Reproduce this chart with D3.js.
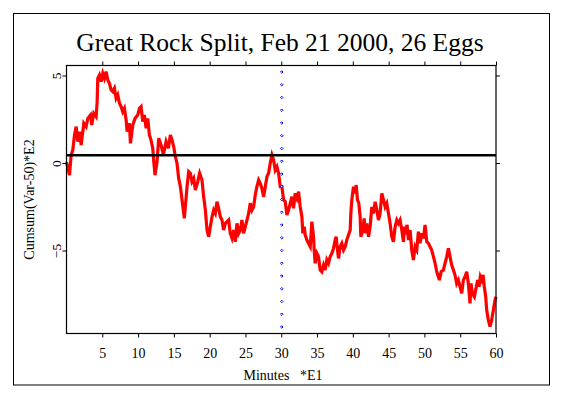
<!DOCTYPE html>
<html>
<head>
<meta charset="utf-8">
<script src="https://cdn.jsdelivr.net/npm/d3@7"></script>
<style>
html, body { margin: 0; padding: 0; background: #fff; }
svg { display: block; }
text { font-family: "Liberation Serif", "Times New Roman", serif; fill: #000; }
</style>
</head>
<body>
<svg id="chart" width="563" height="397"></svg>
<script>
const title = "Great Rock Split, Feb 21 2000, 26 Eggs";
const xLabel = "Minutes   *E1";
const yLabel = "Cumsum(Var-50)*E2";
const xTicks = [5, 10, 15, 20, 25, 30, 35, 40, 45, 50, 55, 60];
const yTicks = [5, 0, -5];
const refLevel = 0.45;
const eventMinute = 30;

const minutes = [
  0, 0.2, 0.42, 0.65, 0.88, 1.12, 1.35, 1.58, 1.81, 2.05, 2.28, 2.42, 2.74, 2.98, 3.35, 3.53, 3.81, 4.14, 4.28, 4.37,
  4.6, 4.84, 5.07, 5.3, 5.53, 5.77, 6.0, 6.23, 6.46, 6.7, 6.93, 7.16, 7.4, 7.63, 7.86, 8.09, 8.33, 8.47, 8.79, 8.93,
  9.26, 9.58, 9.95, 10.19, 10.42, 10.65, 10.88, 11.12, 11.35, 11.58, 11.81, 12.05, 12.19, 12.37, 12.65, 12.88, 13.21, 13.53, 13.91, 14.23,
  14.51, 14.74, 14.98, 15.21, 15.44, 15.67, 15.91, 16.14, 16.46, 16.6, 16.84, 17.07, 17.3, 17.53, 17.77, 18.0, 18.33, 18.6, 18.93, 19.16,
  19.4, 19.63, 19.86, 20.09, 20.33, 20.56, 20.79, 21.02, 21.25, 21.49, 21.72, 21.95, 22.19, 22.65, 22.88, 23.12, 23.35, 23.58, 23.81, 24.05,
  24.28, 24.51, 24.74, 24.98, 25.21, 25.44, 25.67, 25.91, 26.14, 26.37, 26.6, 26.84, 27.07, 27.3, 27.53, 27.77, 28.0, 28.23, 28.46, 28.7,
  28.93, 29.16, 29.4, 29.63, 29.86, 30.09, 30.33, 30.56, 30.79, 31.02, 31.26, 31.49, 31.72, 31.95, 32.19, 32.42, 32.65, 32.88, 33.02, 33.21,
  33.35, 33.58, 33.81, 34.05, 34.28, 34.51, 34.6, 34.74, 34.98, 35.21, 35.44, 35.67, 35.91, 36.14, 36.37, 36.6, 36.84, 37.07, 37.3, 37.53,
  37.67, 37.86, 38.0, 38.23, 38.46, 38.7, 38.93, 39.16, 39.39, 39.63, 39.72, 39.86, 40.09, 40.33, 40.47, 40.65, 40.84, 41.02, 41.12, 41.39,
  41.58, 41.77, 41.95, 42.19, 42.42, 42.65, 42.88, 43.12, 43.35, 43.58, 43.81, 44.05, 44.28, 44.51, 44.74, 44.98, 45.21, 45.44, 45.67, 45.91,
  46.14, 46.37, 46.6, 46.84, 47.07, 47.21, 47.39, 47.58, 47.77, 48.0, 48.23, 48.46, 48.7, 48.93, 49.16, 49.39, 49.63, 49.86, 50.09, 50.33,
  50.56, 50.79, 51.02, 51.26, 51.49, 51.72, 51.95, 52.09, 52.33, 52.65, 52.88, 53.12, 53.35, 53.58, 53.81, 54.05, 54.28, 54.51, 54.74, 54.98,
  55.21, 55.44, 55.67, 55.91, 56.14, 56.37, 56.51, 56.7, 56.98, 57.16, 57.44, 57.63, 57.81, 58.0, 58.19, 58.37, 58.56, 58.7, 58.93, 59.16,
  59.4, 59.63, 59.86, 60.0
];
const cumsum = [
  0.05, -0.3, -0.69, 0.46, 0.74, 1.6, 2.08, 1.22, 1.79, 1.03, 1.79, 2.27, 2.08, 2.55, 2.74, 2.17, 2.84, 2.65, 3.5, 4.84,
  5.03, 4.65, 5.12, 4.84, 5.22, 4.74, 4.55, 4.17, 4.08, 4.27, 3.7, 3.89, 3.41, 3.22, 2.93, 3.12, 2.46, 1.79, 2.27, 1.12,
  2.17, 2.55, 2.74, 3.12, 3.22, 2.36, 2.74, 1.98, 2.55, 1.6, 1.31, 0.84, 0.08, -0.69, 0.08, 1.41, 1.03, 0.46, 1.22, 0.84,
  1.6, 1.31, 0.93, 0.36, -0.02, -0.88, -1.35, -2.11, -3.16, -2.5, -1.35, -0.5, -0.59, -1.07, -0.88, -1.54, -1.07, -0.59, -0.97, -1.92,
  -2.69, -3.83, -4.21, -3.64, -3.07, -2.69, -2.88, -2.21, -2.59, -3.07, -3.26, -3.83, -3.45, -3.26, -4.02, -4.3, -3.83, -4.5, -3.45, -4.02,
  -3.83, -3.26, -4.02, -3.64, -3.26, -2.88, -2.3, -2.69, -2.5, -1.83, -1.35, -0.97, -1.16, -1.45, -1.92, -1.35, -0.78, -0.59, -0.02, 0.46,
  0.17, -0.4, -0.21, -0.59, -1.35, -1.35, -2.11, -2.21, -2.97, -2.69, -2.3, -1.92, -2.59, -1.73, -2.02, -1.64, -2.5, -3.07, -4.02, -3.64,
  -4.11, -4.4, -4.59, -4.78, -3.35, -4.21, -4.97, -5.73, -5.16, -5.35, -6.11, -6.21, -5.83, -6.11, -5.54, -5.73, -5.35, -5.16, -4.88, -4.4,
  -4.21, -4.97, -5.45, -4.78, -4.59, -4.97, -4.78, -4.4, -4.11, -3.83, -2.88, -2.11, -1.35, -1.73, -1.26, -2.11, -2.3, -3.07, -4.21, -3.83,
  -3.16, -4.02, -3.45, -4.21, -3.64, -2.5, -2.88, -2.21, -2.69, -3.26, -2.88, -1.73, -2.11, -2.5, -2.3, -2.88, -3.45, -4.21, -4.5, -3.64,
  -3.26, -3.45, -3.26, -3.83, -4.5, -3.64, -3.83, -3.54, -4.4, -3.83, -4.97, -5.54, -4.78, -4.97, -3.92, -4.59, -4.02, -4.3, -3.54, -4.5,
  -4.59, -4.78, -4.97, -5.35, -5.73, -6.21, -6.5, -6.69, -6.21, -6.11, -5.73, -5.35, -4.88, -5.35, -5.83, -6.11, -6.4, -6.88, -6.69, -7.07,
  -7.45, -6.69, -6.5, -6.21, -6.88, -8.02, -6.88, -7.45, -7.64, -7.26, -6.69, -7.07, -6.5, -6.69, -6.4, -7.07, -7.64, -8.4, -8.97, -9.35,
  -8.97, -8.4, -7.83, -7.64
];

const svg = d3.select("#chart");
const W = 563, H = 397;
const plot = { left: 66.5, right: 496, top: 65.5, bottom: 333.5 };

svg.append("rect").attr("width", W).attr("height", H).attr("fill", "#fff");
// outer frame
svg.append("rect")
  .attr("x", 13.5).attr("y", 13.5)
  .attr("width", 536).attr("height", 371.5)
  .attr("fill", "none").attr("stroke", "#000").attr("stroke-width", 1);

const x = d3.scaleLinear().domain([0, 60]).range([plot.left, plot.right]);
const y = d3.scaleLinear().domain([-9.74, 5.57]).range([plot.bottom, plot.top]);

const data = minutes.map((m, i) => [m, cumsum[i]]);

const g = svg.append("g");

// red cumulative line
g.append("path")
  .datum(data)
  .attr("fill", "none")
  .attr("stroke", "#ff0000")
  .attr("stroke-width", 3.2)
  .attr("stroke-linejoin", "miter")
  .attr("d", d3.line().x(d => x(d[0])).y(d => y(d[1])));

// reference horizontal line
g.append("line")
  .attr("x1", x(0)).attr("x2", x(60))
  .attr("y1", y(refLevel)).attr("y2", y(refLevel))
  .attr("stroke", "#000").attr("stroke-width", 2.5);

// event marker line drawn as small diamonds
const markerYs = d3.range(plot.top + 6.5, plot.bottom - 2, 12.75);
const diamond = d3.symbolDiamond2 || d3.symbolDiamond;
g.selectAll("path.evt")
  .data(markerYs)
  .join("path")
  .attr("class", "evt")
  .attr("transform", d => `translate(${x(eventMinute) + 0.5},${d})`)
  .attr("d", d3.symbol().type(diamond).size(4))
  .attr("fill", "#fff")
  .attr("stroke", "#0000ff")
  .attr("stroke-width", 1);

// axes
const axisStyle = sel => {
  sel.select(".domain").remove();
  sel.selectAll(".tick line").attr("stroke", "#000").attr("stroke-width", 1);
  sel.selectAll("text").style("font-family", '"Liberation Serif", serif').style("font-size", "14px").attr("fill", "#000");
};

svg.append("g").attr("transform", `translate(0,${plot.bottom})`)
  .call(d3.axisBottom(x).tickValues(xTicks).tickSize(4).tickPadding(11).tickFormat(d3.format("d")))
  .call(axisStyle);
svg.append("g").attr("transform", `translate(0,${plot.top})`)
  .call(d3.axisTop(x).tickValues(xTicks).tickSize(4).tickFormat(""))
  .call(axisStyle);
const yAx = svg.append("g").attr("transform", `translate(${plot.left},0)`)
  .call(d3.axisLeft(y).tickValues(yTicks).tickSize(4).tickFormat(d3.format("d")))
  .call(axisStyle);
yAx.selectAll(".tick text")
  .attr("x", null).attr("dy", null)
  .attr("text-anchor", "middle")
  .attr("transform", "translate(-5.5,0) rotate(-90)")
  .attr("y", 0)
  .style("font-size", "13.5px");
svg.append("g").attr("transform", `translate(${plot.right},0)`)
  .call(d3.axisRight(y).tickValues(yTicks).tickSize(4).tickFormat(""))
  .call(axisStyle);

// plot frame
svg.append("rect")
  .attr("x", plot.left).attr("y", plot.top)
  .attr("width", plot.right - plot.left).attr("height", plot.bottom - plot.top)
  .attr("fill", "none").attr("stroke", "#000").attr("stroke-width", 1.2);

// title
svg.append("text")
  .attr("x", 280).attr("y", 51)
  .attr("text-anchor", "middle")
  .style("font-size", "25.5px")
  .text(title);

// x label
svg.append("text")
  .attr("x", 283).attr("y", 380)
  .attr("text-anchor", "middle")
  .style("font-size", "14px")
  .style("white-space", "pre")
  .attr("xml:space", "preserve")
  .text(xLabel);

// y label
svg.append("text")
  .attr("transform", `translate(34,${(plot.top + plot.bottom) / 2}) rotate(-90)`)
  .attr("text-anchor", "middle")
  .style("font-size", "14px")
  .text(yLabel);
</script>
</body>
</html>
